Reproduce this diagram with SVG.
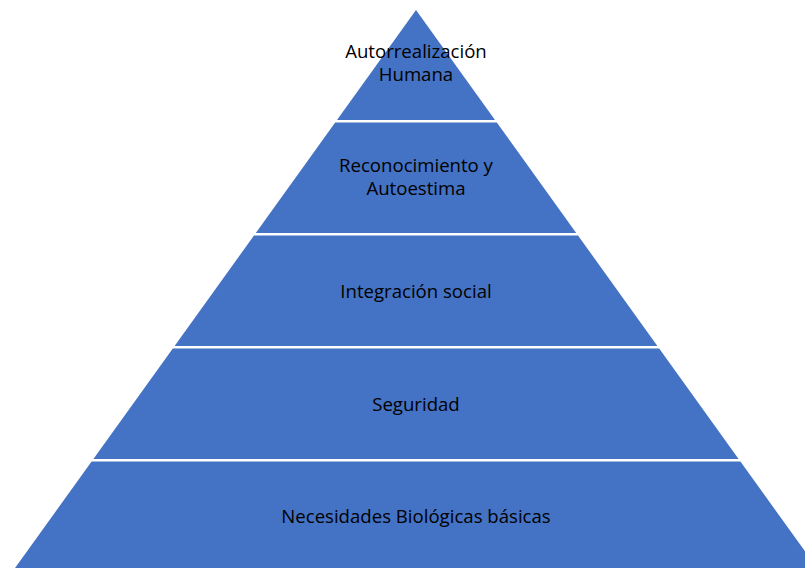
<svg xmlns="http://www.w3.org/2000/svg" width="805" height="568" viewBox="0 0 805 568">
<style>
.lvl{fill:#4472C4}
.t{font-family:"Open Sans","Liberation Sans",sans-serif;font-size:18.6px;fill:#000;text-anchor:middle}
</style>
<rect width="805" height="568" fill="#fff"/>
<g id="level5">
<polygon class="lvl" points="91.6,461.5 740.4,461.5 822,575 10,575"/>
<text class="t" x="416" y="523">Necesidades Biológicas básicas</text>
</g>
<g id="level4">
<polygon class="lvl" points="172.8,348.5 659.2,348.5 738.6,459 93.4,459"/>
<text class="t" x="416" y="411">Seguridad</text>
</g>
<g id="level3">
<polygon class="lvl" points="254,235.5 578,235.5 657.4,346 174.6,346"/>
<text class="t" x="416" y="298">Integración social</text>
</g>
<g id="level2">
<polygon class="lvl" points="335.2,122.5 496.8,122.5 576.2,233 255.8,233"/>
<text class="t" x="416" y="172">Reconocimiento y</text>
<text class="t" x="416" y="195">Autoestima</text>
</g>
<g id="level1">
<polygon class="lvl" points="416,10 495,120 337,120"/>
<text class="t" x="416" y="58">Autorrealización</text>
<text class="t" x="416" y="81">Humana</text>
</g>
<g id="connectors"/>
</svg>
